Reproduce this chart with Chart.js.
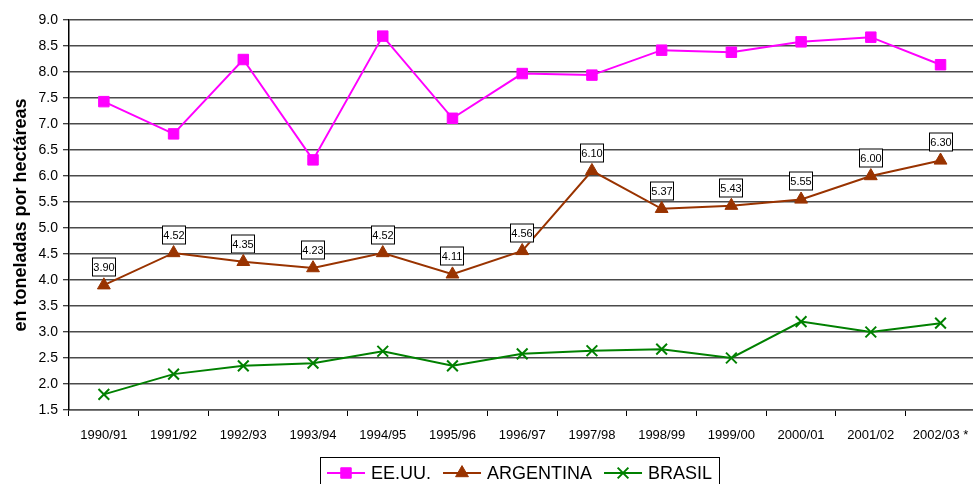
<!DOCTYPE html>
<html>
<head>
<meta charset="utf-8">
<script src="https://cdn.jsdelivr.net/npm/chart.js@4/dist/chart.umd.min.js"></script>
<style>
  html, body { margin: 0; padding: 0; background: #fff; overflow: hidden; width: 973px; height: 484px; }
  #wrap { position: relative; width: 985px; height: 484px; }
</style>
</head>
<body>
<div id="wrap"><canvas id="c" width="985" height="484"></canvas></div>
<script>
// Rendimientos por campaña (toneladas por hectárea)
const campaigns = ['1990/91', '1991/92', '1992/93', '1993/94', '1994/95', '1995/96', '1996/97',
                   '1997/98', '1998/99', '1999/00', '2000/01', '2001/02', '2002/03 *'];
const eeuu      = [7.43, 6.81, 8.24, 6.31, 8.69, 7.11, 7.97, 7.94, 8.42, 8.38, 8.58, 8.67, 8.14];
const argentina = [3.90, 4.52, 4.35, 4.23, 4.52, 4.11, 4.56, 6.10, 5.37, 5.43, 5.55, 6.00, 6.30];
const brasil    = [1.80, 2.19, 2.35, 2.40, 2.63, 2.35, 2.58, 2.64, 2.67, 2.50, 3.20, 3.00, 3.17];
const seriesNames = ['EE.UU.', 'ARGENTINA', 'BRASIL'];
const yMin = 1.5, yMax = 9.0, yStep = 0.5;
const yTitle = 'en toneladas por hectáreas';

const FONT = '"Liberation Sans", Arial, sans-serif';

// Boxed value labels above the ARGENTINA points
const valueBoxes = {
  id: 'valueBoxes',
  afterDatasetsDraw(chart) {
    const ctx = chart.ctx;
    const meta = chart.getDatasetMeta(1);
    const values = chart.data.datasets[1].data;
    ctx.save();
    ctx.font = '11px ' + FONT;
    ctx.textAlign = 'center';
    ctx.textBaseline = 'middle';
    meta.data.forEach((pt, i) => {
      const w = 24, h = 19;
      const cx = Math.round(pt.x), cy = Math.round(pt.y - 18);
      const left = cx - w / 2, top = cy - h / 2;
      ctx.fillStyle = '#fff';
      ctx.fillRect(left, top, w, h);
      ctx.strokeStyle = '#000';
      ctx.lineWidth = 1;
      ctx.strokeRect(left + 0.5, top + 0.5, w - 1, h - 1);
      ctx.fillStyle = '#000';
      ctx.fillText(values[i].toFixed(2), cx, cy + 0.5);
    });
    ctx.restore();
  }
};

// Framed legend below the axis: line segment + marker + name
const framedLegend = {
  id: 'framedLegend',
  afterDraw(chart) {
    const ctx = chart.ctx;
    const sets = chart.data.datasets;
    ctx.save();
    ctx.font = '18px ' + FONT;
    const lineLen = 38, textGap = 6, itemGap = 12, padX = 7;
    const widths = sets.map(ds => ctx.measureText(ds.label).width);
    const total = widths.reduce((s, w) => s + lineLen + textGap + w, 0) + itemGap * (sets.length - 1);
    const boxW = Math.round(total + 2 * padX);
    const boxLeft = Math.round(519 - boxW / 2);
    const boxTop = 457;
    const cy = 473;
    ctx.strokeStyle = '#000';
    ctx.lineWidth = 1;
    ctx.strokeRect(boxLeft + 0.5, boxTop + 0.5, boxW, 60);
    let x = boxLeft + padX;
    sets.forEach((ds, i) => {
      ctx.strokeStyle = ds.borderColor;
      ctx.lineWidth = 2;
      ctx.beginPath();
      ctx.moveTo(x, cy);
      ctx.lineTo(x + lineLen, cy);
      ctx.stroke();
      ctx.fillStyle = ds.pointBackgroundColor;
      ctx.strokeStyle = ds.pointBorderColor;
      ctx.lineWidth = ds.pointBorderWidth;
      Chart.helpers.drawPoint(ctx, {
        pointStyle: ds.pointStyle,
        radius: ds.pointRadius,
        borderWidth: ds.pointBorderWidth,
        rotation: 0
      }, x + lineLen / 2, cy);
      ctx.fillStyle = '#000';
      ctx.textAlign = 'left';
      ctx.textBaseline = 'middle';
      ctx.fillText(ds.label, x + lineLen + textGap, cy + 1);
      x += lineLen + textGap + widths[i] + itemGap;
    });
    ctx.restore();
  }
};

const chart = new Chart(document.getElementById('c'), {
  type: 'line',
  data: {
    labels: campaigns,
    datasets: [
      {
        label: seriesNames[0], data: eeuu,
        borderColor: '#FF00FF', borderWidth: 2,
        pointStyle: 'rect', pointRadius: 7.4,
        pointBackgroundColor: '#FF00FF', pointBorderColor: '#FF00FF', pointBorderWidth: 1,
        tension: 0
      },
      {
        label: seriesNames[1], data: argentina,
        borderColor: '#993300', borderWidth: 2,
        pointStyle: 'triangle', pointRadius: 7.4,
        pointBackgroundColor: '#993300', pointBorderColor: '#993300', pointBorderWidth: 1,
        tension: 0
      },
      {
        label: seriesNames[2], data: brasil,
        borderColor: '#008000', borderWidth: 2,
        pointStyle: 'crossRot', pointRadius: 7.6,
        pointBackgroundColor: '#008000', pointBorderColor: '#008000', pointBorderWidth: 2,
        tension: 0
      }
    ]
  },
  options: {
    responsive: false,
    animation: false,
    events: [],
    layout: { padding: { left: 0, top: 20, right: 6, bottom: 0 } },
    plugins: {
      legend: { display: false },
      tooltip: { enabled: false }
    },
    scales: {
      x: {
        offset: true,
        afterFit(scale) { scale.height = 74; },
        grid: {
          offset: true, drawOnChartArea: false, drawTicks: true,
          tickLength: 6, tickColor: '#000', tickWidth: 1
        },
        border: { display: true, color: '#555', width: 1.5 },
        ticks: {
          autoSkip: false, maxRotation: 0, padding: 12,
          color: '#000', font: { family: FONT, size: 13 }
        }
      },
      y: {
        min: yMin, max: yMax,
        afterFit(scale) { scale.width = 69; },
        grid: {
          color: '#4a4a4a', lineWidth: 1.5,
          drawTicks: true, tickLength: 6, tickColor: '#000', tickWidth: 1
        },
        border: { display: true, color: '#000', width: 1.5 },
        ticks: {
          stepSize: yStep, padding: 5, color: '#000',
          font: { family: FONT, size: 14 },
          callback: v => Number(v).toFixed(1)
        },
        title: {
          display: true, text: yTitle, color: '#000',
          font: { family: FONT, size: 18, weight: 'bold' },
          padding: { top: 10, bottom: 0 }
        }
      }
    }
  },
  plugins: [valueBoxes, framedLegend]
});
</script>
</body>
</html>
